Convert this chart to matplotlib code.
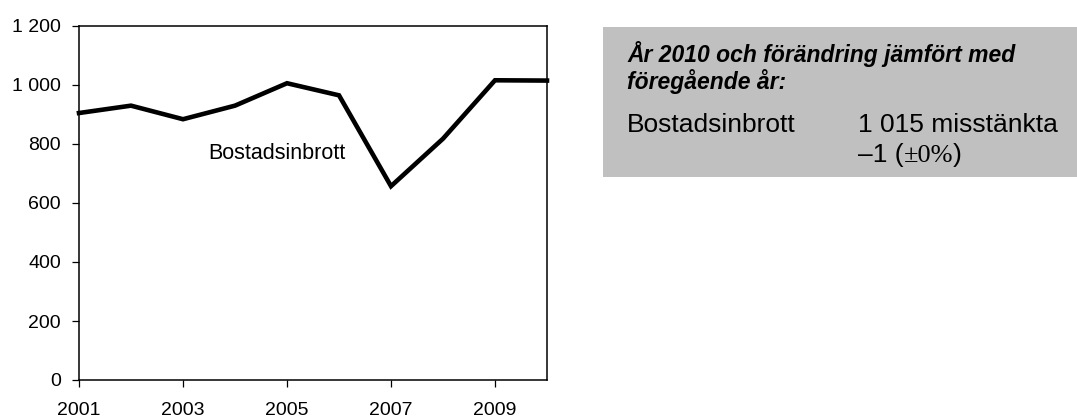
import matplotlib
matplotlib.use("Agg")
import matplotlib.pyplot as plt
from matplotlib.patches import Rectangle

years = [2001, 2002, 2003, 2004, 2005, 2006, 2007, 2008, 2009, 2010]
values = [905, 930, 884, 930, 1006, 965, 657, 818, 1016, 1015]
xticks = [2001, 2003, 2005, 2007, 2009]
yticks = [0, 200, 400, 600, 800, 1000, 1200]
ytick_labels = ["0", "200", "400", "600", "800", "1 000", "1 200"]
series_label = "Bostadsinbrott"
box_title_1 = "År 2010 och förändring jämfört med"
box_title_2 = "föregående år:"
box_row = "Bostadsinbrott"
box_count = "1 015 misstänkta"

plt.rcParams['font.family'] = ['Liberation Sans', 'DejaVu Sans']
W, H = 1077, 418
fig = plt.figure(figsize=(W / 100, H / 100), dpi=100)

def fx(px):
    return px / W

def fy(py):
    return 1 - py / H

ax = fig.add_axes([fx(79), fy(380), fx(547) - fx(79), fy(26) - fy(380)])
ax.plot(years, values, color='black', lw=3.3, solid_joinstyle='miter', clip_on=False)
ax.set_xlim(2001, 2010)
ax.set_ylim(0, 1200)
ax.set_xticks(xticks)
ax.set_xticklabels([str(x) for x in xticks])
ax.set_yticks(yticks)
ax.set_yticklabels(ytick_labels)
ax.tick_params(axis='both', labelsize=14, length=5, width=0.9, color='black', direction='out')
ax.tick_params(axis='x', pad=10.5)
ax.tick_params(axis='y', pad=8)
for s in ax.spines.values():
    s.set_linewidth(1.1)
    s.set_color('black')
ax.text(2004.81, 769, series_label, fontsize=15.5, ha='center', va='center')

# Gray info box
fig.patches.append(Rectangle((fx(603), fy(177)), fx(W) - fx(603), fy(27) - fy(177),
                             transform=fig.transFigure, facecolor='#c0c0c0', edgecolor='none'))
fig.text(fx(627), fy(62), box_title_1, fontsize=16.5, fontweight='bold', fontstyle='italic',
         ha='left', va='baseline')
fig.text(fx(627), fy(89), box_title_2, fontsize=16.5, fontweight='bold', fontstyle='italic',
         ha='left', va='baseline')
fig.text(fx(627), fy(132), box_row, fontsize=19, ha='left', va='baseline')
fig.text(fx(858), fy(132), box_count, fontsize=19, ha='left', va='baseline')

# "–1 (±0%)" with ±0% in a serif face
fig.canvas.draw()
r = fig.canvas.get_renderer()
x = 858
parts = [("\u20131 (", 'Liberation Sans'), ("\u00b10%", 'Liberation Serif'), (")", 'Liberation Sans')]
for txt, fam in parts:
    t = fig.text(fx(x), fy(162), txt, fontsize=19, ha='left', va='baseline', family=fam)
    bb = t.get_window_extent(r)
    x += bb.width

fig.savefig("out.png", dpi=100)
